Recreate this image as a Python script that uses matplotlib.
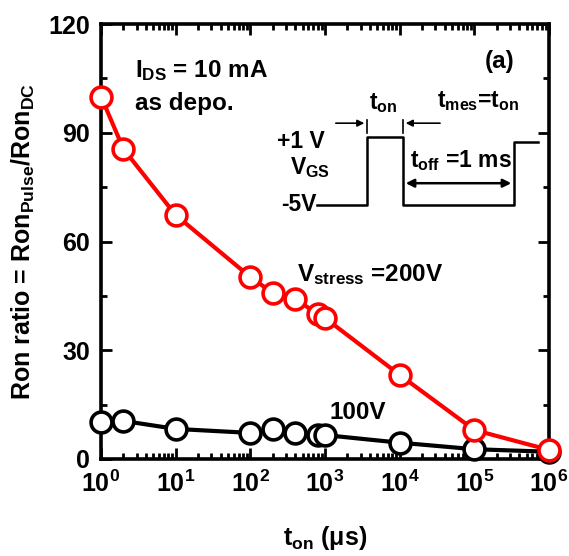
import numpy as np
import matplotlib
matplotlib.use("Agg")
import matplotlib.pyplot as plt
from matplotlib.ticker import LogLocator, MultipleLocator

plt.rcParams['font.family'] = ['Liberation Sans', 'DejaVu Sans']
plt.rcParams['font.weight'] = 'bold'
plt.rcParams['mathtext.fontset'] = 'custom'
plt.rcParams['mathtext.rm'] = 'Liberation Sans:bold'
plt.rcParams['mathtext.it'] = 'Liberation Sans:bold'
plt.rcParams['mathtext.bf'] = 'Liberation Sans:bold'

# data
t_on_us = [1, 2, 10, 100, 200, 400, 800, 1000, 1e4, 1e5, 1e6]
ratio_200v = [100, 85.5, 67.3, 50.2, 45.8, 44.1, 40.0, 38.9, 23.2, 8.0, 2.5]
ratio_100v = [10.2, 10.5, 8.3, 7.2, 8.2, 7.2, 6.5, 6.6, 4.5, 2.7, 2.0]

y_ticks = [0, 30, 60, 90, 120]

fig = plt.figure(figsize=(5.69, 5.56), dpi=100)
ax = fig.add_axes([101 / 569, 1 - 459 / 556, 448 / 569, 435 / 556])

mk = dict(marker='o', markersize=15, markerfacecolor='white', markeredgewidth=2.6,
          linewidth=3.0, clip_on=False, zorder=3)
ax.plot(t_on_us, ratio_100v, color='black', **mk)
ax.plot(t_on_us, ratio_200v, color='#ff0000', **mk)

ax.set_xscale('log')
ax.set_xlim(1, 1e6)
ax.set_ylim(0, 120)
ax.set_yticks(y_ticks)
ax.yaxis.set_minor_locator(MultipleLocator(15))
ax.xaxis.set_major_locator(LogLocator(base=10, numticks=10))
ax.xaxis.set_minor_locator(LogLocator(base=10, subs=np.arange(2, 10), numticks=20))

for s in ax.spines.values():
    s.set_linewidth(2.6)
ax.tick_params(which='both', direction='in', top=True, right=True, width=2)
ax.tick_params(which='major', length=8, labelsize=18, pad=8)
ax.tick_params(which='minor', length=4)
for lab in ax.get_yticklabels():
    lab.set_fontweight('bold')

ax.set_xlabel(r't$_{\rm on}$ (μs)', fontsize=18, fontweight='bold', labelpad=20)
ax.set_ylabel(r'Ron ratio = Ron$_{\rm Pulse}$/Ron$_{\rm DC}$', fontsize=18,
              fontweight='bold', labelpad=8)

tr = ax.transAxes
fs = 17.5
ax.text(0.076, 0.894, r'I$_{\rm DS}$ = 10 mA', transform=tr, fontsize=fs, va='center')
ax.text(0.076, 0.818, 'as depo.', transform=tr, fontsize=fs, va='center')
ax.text(0.89, 0.913, '(a)', transform=tr, fontsize=fs, va='center', ha='center')
ax.text(0.4375, 0.423, r'V$_{\rm stress}$ =200V', transform=tr, fontsize=fs, va='center')
ax.text(0.511, 0.108, '100V', transform=tr, fontsize=fs, va='center')

# gate pulse sketch
wx = [0.482, 0.594, 0.594, 0.674, 0.674, 0.922, 0.922, 0.975]
wy = [0.584, 0.584, 0.740, 0.740, 0.584, 0.584, 0.729, 0.729]
ax.plot(wx, wy, color='black', lw=1.8, transform=tr)
ax.plot([0.594, 0.594], [0.749, 0.779], color='black', lw=1.2, transform=tr)
ax.plot([0.674, 0.674], [0.749, 0.779], color='black', lw=1.2, transform=tr)
arr = dict(arrowstyle='-|>', color='black', lw=1.2, mutation_scale=10)
ax.annotate('', xy=(0.594, 0.772), xytext=(0.518, 0.772), xycoords=tr, textcoords=tr, arrowprops=arr)
ax.annotate('', xy=(0.674, 0.772), xytext=(0.763, 0.772), xycoords=tr, textcoords=tr, arrowprops=arr)
ax.annotate('', xy=(0.674, 0.634), xytext=(0.922, 0.634), xycoords=tr, textcoords=tr,
            arrowprops=dict(arrowstyle='<|-|>', color='black', lw=1.8, mutation_scale=12))

fs2 = 16.5
ax.text(0.629, 0.818, r't$_{\rm on}$', transform=tr, fontsize=fs2, ha='center', va='center')
ax.text(0.842, 0.823, r't$_{\rm mes}$=t$_{\rm on}$', transform=tr, fontsize=fs2, ha='center', va='center')
ax.text(0.50, 0.729, '+1 V', transform=tr, fontsize=fs2, ha='right', va='center')
ax.text(0.467, 0.669, r'V$_{\rm GS}$', transform=tr, fontsize=fs2, ha='center', va='center')
ax.text(0.48, 0.584, '-5V', transform=tr, fontsize=fs2, ha='right', va='center')
ax.text(0.69, 0.687, r't$_{\rm off}$ =1 ms', transform=tr, fontsize=fs2, ha='left', va='center')

fig.savefig('out.png', dpi=100)
